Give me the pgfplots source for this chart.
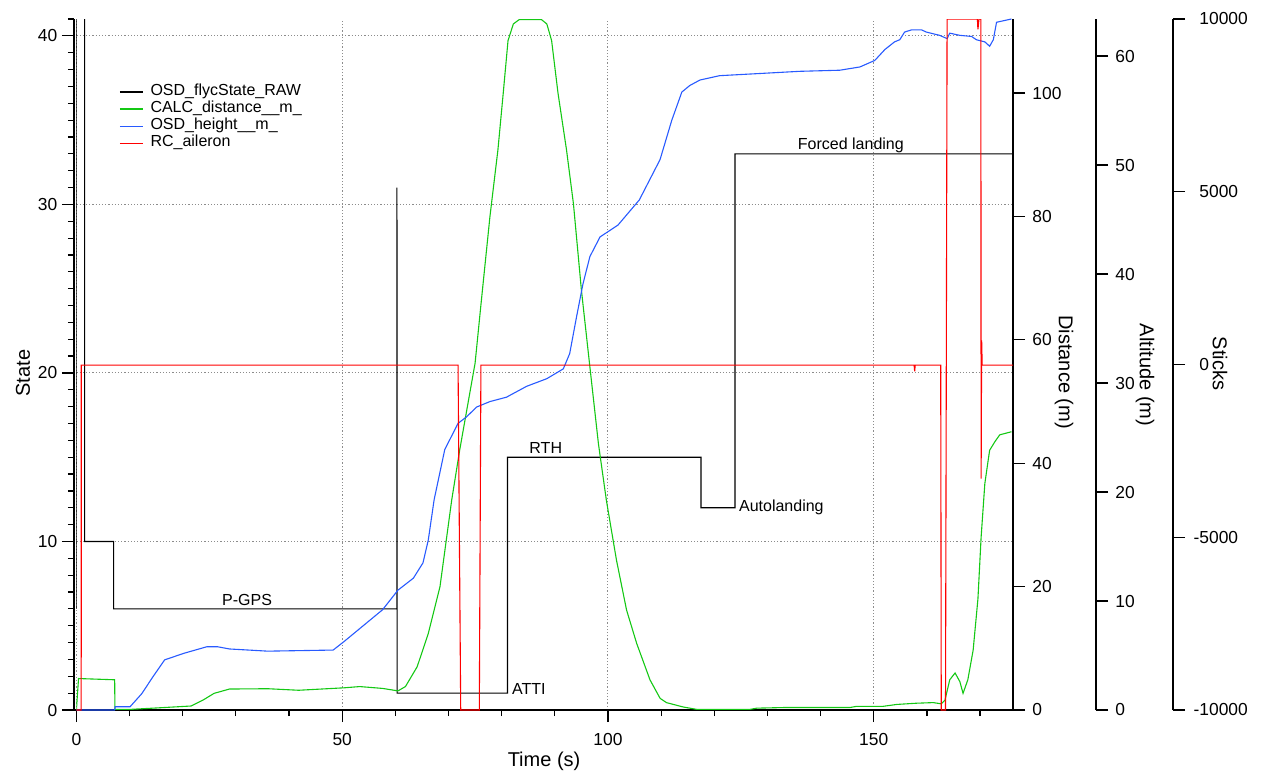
\documentclass[border=0pt]{standalone}
\usepackage{fontspec}
\setmainfont{Liberation Sans}
\usepackage{pgfplots}
\pgfplotsset{compat=1.18}
\definecolor{cgreen}{RGB}{20,200,20}
\definecolor{cblue}{RGB}{40,90,255}
\definecolor{cred}{RGB}{255,0,0}
\definecolor{cgrid}{RGB}{140,140,140}

\pgfplotsset{
  legend image code/.code={\draw[#1] (0pt,0pt) -- (11.5pt,0pt);},
}
\pgfplotsset{
  base/.style={
    scale only axis, width=468.3pt, height=345.5pt,
    at={(0,0)}, anchor=south west,
    xmin=0, xmax=176.2,
    tick align=outside, major tick length=6pt, minor tick length=3pt,
    every tick/.style={black, line width=0.6pt},
    axis line style={line width=0.75pt},
    ticklabel style={font=\fontsize{8.7}{10}\selectfont},
    /pgf/number format/assume math mode=true,
    /pgf/number format/1000 sep={},
    label style={font=\fontsize{8.7}{10}\selectfont},
  },
  rightaxis/.style={
    base, axis y line*=right, hide x axis,
  },
}

\begin{document}
\begin{tikzpicture}
% ---------------- State (left) ----------------
\begin{axis}[base,
  ymin=0, ymax=41,
  axis x line*=bottom, axis y line*=left,
  x axis line style={shorten <=-1.25pt},
  y axis line style={xshift=-1.25pt},
  ytick style={xshift=-1.25pt},
  xticklabel style={yshift=-2.25pt},
  xtick={0,50,100,150},
  minor xtick={10,20,30,40,60,70,80,90,110,120,130,140,160,170},
  ytick={0,10,20,30,40},
  minor ytick={1,2,...,41},
  xmajorgrids, ymajorgrids,
  grid style={cgrid, line width=0.5pt, dash pattern=on 0.6pt off 1pt},
  xlabel={Time (s)}, ylabel={State},
  every axis x label/.style={at={(rel axis cs:0.4993,-0.0738)}, anchor=center},
  every axis y label/.style={at={(rel axis cs:-0.057,0.4877)}, rotate=90, anchor=center},
  legend style={at={(axis cs:8.0,37.2)}, anchor=north west, draw=none, fill=none,
    font=\fontsize{8}{9}\selectfont, inner sep=0pt, row sep=0pt,
    nodes={inner sep=0pt, text height=6.05pt, text depth=2.5pt},
    /tikz/every odd column/.append style={column sep=3.5pt}},
  legend cell align=left,
]
\addplot[black, line width=0.55pt, forget plot] coordinates {
(0,6) (0,45) (1.56,45) (1.56,10) (7.0,10) (7.0,6) (60.3,6) (60.3,31) (60.35,1)
(81.1,1) (81.1,15) (117.5,15) (117.5,12) (123.9,12) (123.9,33) (176.2,33)
};
\addlegendimage{black, line width=0.55pt}
\addlegendentry{OSD\_flycState\_RAW}
\addlegendimage{cgreen, line width=0.6pt}
\addlegendentry{CALC\_distance\_\_m\_}
\addlegendimage{cblue, line width=0.6pt}
\addlegendentry{OSD\_height\_\_m\_}
\addlegendimage{cred, line width=0.6pt}
\addlegendentry{RC\_aileron}
\node[font=\fontsize{8}{9}\selectfont, anchor=base, inner sep=0pt, yshift=1.5pt] at (axis cs:32.1,6) {P-GPS};
\node[font=\fontsize{8}{9}\selectfont, anchor=base west, inner sep=0pt, yshift=-0.5pt] at (axis cs:81.9,1) {ATTI};
\node[font=\fontsize{8}{9}\selectfont, anchor=base, inner sep=0pt, yshift=2pt] at (axis cs:88.3,15) {RTH};
\node[font=\fontsize{8}{9}\selectfont, anchor=west, inner sep=0pt] at (axis cs:124.6,12) {Autolanding};
\node[font=\fontsize{8}{9}\selectfont, anchor=base, inner sep=0pt, yshift=2pt] at (axis cs:145.7,33) {Forced landing};
\end{axis}

% ---------------- Distance ----------------
\begin{axis}[rightaxis,
  ymin=0, ymax=112,
  ytick={0,20,40,60,80,100},
  yticklabel style={anchor=west, inner sep=0pt, xshift=3.5pt},
  ylabel={Distance (m)},
  every axis y label/.style={at={(rel axis cs:1.0545,0.4891)}, rotate=-90, anchor=center},
]
\addplot[cgreen, line width=0.55pt] coordinates {
(0,0) (0.4,5.1) (7.2,4.9) (7.25,0.1) (10.1,0.1) (14.4,0.3) (21.6,0.65) (23.8,1.6)
(25.9,2.7) (28.8,3.4) (36.0,3.45) (41.8,3.2) (50.4,3.6) (53.3,3.8) (57.6,3.5)
(60.5,3.1) (61.9,3.8) (64.1,7.0) (66.2,12.4) (68.4,20.0) (70.6,34.0) (72.1,42.1)
(75.0,56.2) (76.2,66.5) (77.8,80) (79.3,90.8) (80.3,100) (81.2,108.5) (82.2,111.2)
(83.3,111.9) (87.5,111.9) (88.5,111.2) (89.4,108.5) (90.6,100) (92.2,90.8)
(93.5,82.1) (95.0,68.1)
(96.6,55.6) (98.2,43.2) (99.7,34.0) (101.6,24.3) (103.5,16.2) (105.4,10.8) (107.9,4.9)
(109.8,1.9) (111.0,1.2) (114.1,0.5) (116.7,0.1) (126.7,0.1) (128.0,0.3) (133.0,0.4)
(145.5,0.4) (146.8,0.6) (151.8,0.6) (154.3,0.9) (158.0,1.1) (161.2,1.2) (162.7,1.0)
(163.4,1.6) (164.3,4.9) (165.3,6.0) (166.2,4.6) (166.8,2.7) (167.7,4.9) (168.7,9.7)
(169.6,18) (170.2,28) (170.9,36.7) (171.8,42.1) (172.8,43.5) (173.7,44.6) (175.9,45.1)
};
\end{axis}

% ---------------- Altitude ----------------
\begin{axis}[rightaxis,
  ymin=0, ymax=63.4,
  ytick={0,10,20,30,40,50,60},
  y axis line style={xshift=41.5pt},
  ytick style={xshift=41.5pt},
  yticklabel style={anchor=west, inner sep=0pt, xshift=45pt},
  ylabel={Altitude (m)},
  every axis y label/.style={at={(rel axis cs:1.1409,0.4848)}, rotate=-90, anchor=center},
]
\addplot[cblue, line width=0.55pt] coordinates {
(0,0) (7.2,0) (7.3,0.3) (10.1,0.3) (12.3,1.5) (14.4,3.05) (16.6,4.6) (20.2,5.2)
(24.5,5.8) (26.6,5.8) (28.8,5.6) (36.0,5.4) (48.3,5.5) (50.4,6.3) (57.6,9.2)
(60.5,11.0) (63.4,12.1) (65.2,13.5) (66.2,15.6) (67.3,19.3) (69.3,23.9) (71.8,26.3)
(73.4,26.9) (75.3,27.8) (77.8,28.3) (80.9,28.7) (84.7,29.7) (88.5,30.4) (91.6,31.3)
(92.8,32.7) (94.1,36.1) (95.3,39.1) (96.6,41.6) (98.5,43.4) (101.9,44.5) (105.9,46.8)
(109.8,50.5) (112.0,54.1) (113.9,56.7) (115.4,57.3) (117.3,57.8) (121.0,58.2)
(128.6,58.4) (136.1,58.6) (143.6,58.7) (147.4,59.0) (150.2,59.6) (152.1,60.6)
(153.9,61.3) (154.9,61.5) (155.8,62.2) (157.1,62.4) (159.0,62.4) (159.9,62.2)
(162.4,61.9) (163.8,61.6) (164.3,62.1) (166.2,61.9) (168.4,61.8) (169.3,61.5)
(170.9,61.3) (171.8,60.9) (172.5,61.5) (173.1,63.1) (175.9,63.4)
};
\end{axis}

% ---------------- Sticks ----------------
\begin{axis}[rightaxis,
  ymin=-10000, ymax=10000,
  ytick={-10000,-5000,0,5000,10000},
  yticklabels={\llap{-}10000,\llap{-}5000,0,5000,10000},
  y axis line style={xshift=80pt},
  ytick style={xshift=80pt},
  yticklabel style={anchor=west, inner sep=0pt, xshift=87pt},
  ylabel={Sticks},
  every axis y label/.style={at={(rel axis cs:1.2210,0.5014)}, rotate=-90, anchor=center},
]
\addplot[cred, line width=0.55pt] coordinates {
(0,-10000) (0.9,-10000) (0.92,-20) (71.8,-20) (72.3,-10000) (75.8,-10000) (76.1,-20)
(157.6,-20) (157.7,-200) (157.8,-20) (162.6,-20) (162.7,-10000) (163.5,-10000)
(163.8,10000) (169.5,10000) (169.6,9700) (169.8,10000) (170.15,10000) (170.2,-3300)
(170.3,700) (170.4,-20) (176.2,-20)
};
\end{axis}

\pgfresetboundingbox
\useasboundingbox (-38.2pt,-31.5pt) rectangle (592.8pt,355pt);
\end{tikzpicture}
\end{document}
